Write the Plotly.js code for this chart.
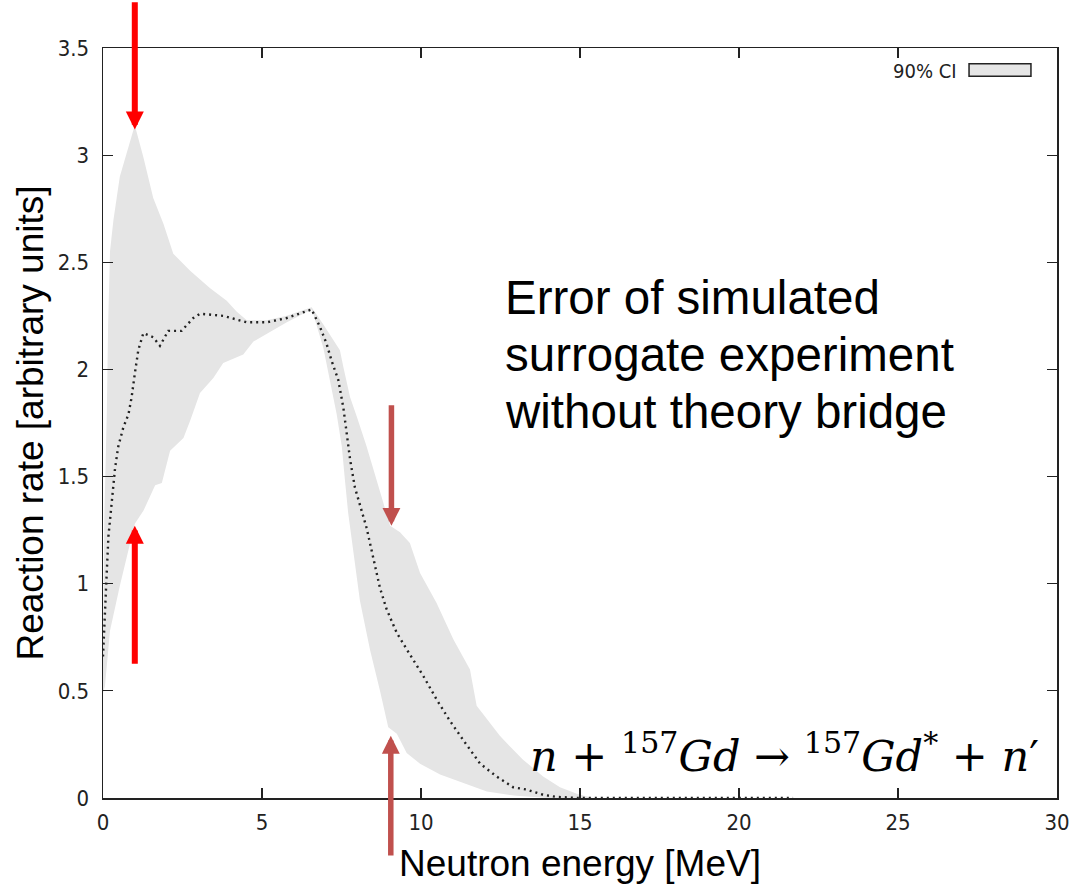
<!DOCTYPE html>
<html>
<head>
<meta charset="utf-8">
<script src="https://cdn.plot.ly/plotly-3.0.1.min.js"></script>
<style>html,body{margin:0;padding:0;background:#fff;}#chart{width:1076px;height:886px;}</style>
</head>
<body>
<div id="chart"></div>
<script>
// Central (dotted) curve: neutron energy [MeV] vs reaction rate
const energy = [0, 0.03, 0.06, 0.12, 0.17, 0.24, 0.30, 0.38, 0.48, 0.64, 0.80, 0.90, 1.0, 1.11, 1.27, 1.58, 1.79, 2.05, 2.47, 2.84, 3.05, 3.78, 4.52, 5.15, 5.78, 6.56, 6.82, 7.03, 7.19, 7.40, 7.56, 7.66, 7.77, 7.92, 8.08, 8.29, 8.5, 8.71, 8.92, 9.24, 9.65, 10.07, 10.49, 10.91, 11.33, 11.86, 12.38, 12.9, 13.3, 13.84, 14.26, 15, 16, 18, 20, 21.7];
const rate   = [0.66, 0.78, 0.91, 1.06, 1.22, 1.33, 1.45, 1.54, 1.64, 1.73, 1.79, 1.87, 1.98, 2.09, 2.17, 2.15, 2.11, 2.18, 2.18, 2.24, 2.26, 2.25, 2.22, 2.22, 2.24, 2.28, 2.20, 2.12, 2.04, 1.95, 1.82, 1.70, 1.58, 1.45, 1.37, 1.26, 1.12, 0.98, 0.88, 0.77, 0.67, 0.57, 0.46, 0.36, 0.27, 0.16, 0.10, 0.05, 0.04, 0.015, 0.005, 0, 0, 0, 0, 0];

// 90% CI upper bound
const upperE = [0, 0.04, 0.12, 0.16, 0.22, 0.33, 0.53, 1.0, 1.27, 1.58, 1.90, 2.21, 2.74, 3.36, 3.89, 4.2, 4.52, 5.15, 5.78, 6.56, 6.93, 7.45, 7.56, 7.77, 7.98, 8.29, 8.61, 8.92, 9.03, 9.34, 9.65, 9.97, 10.49, 11.02, 11.54, 11.75, 12.07, 12.48, 12.8, 13.2, 13.84, 14.37, 14.9, 15.4];
const upperR = [0.7, 1.3, 1.8, 2.2, 2.55, 2.70, 2.90, 3.14, 2.99, 2.80, 2.68, 2.54, 2.46, 2.38, 2.32, 2.27, 2.23, 2.23, 2.25, 2.29, 2.21, 2.09, 2.01, 1.87, 1.78, 1.64, 1.48, 1.33, 1.27, 1.24, 1.19, 1.05, 0.91, 0.74, 0.60, 0.43, 0.37, 0.29, 0.24, 0.18, 0.10, 0.05, 0.02, 0.0];

// 90% CI lower bound
const lowerE = [0, 0.06, 0.22, 0.53, 1.0, 1.27, 1.64, 1.85, 2.11, 2.53, 2.74, 3.05, 3.47, 3.78, 4.1, 4.41, 4.73, 4.94, 5.78, 6.56, 6.61, 6.93, 7.14, 7.35, 7.51, 7.61, 7.71, 7.87, 8.08, 8.40, 8.71, 8.97, 9.24, 9.55, 9.97, 10.6, 11.33, 12.07, 13.0, 14.0, 15.4];
const lowerR = [0.49, 0.52, 0.78, 0.99, 1.28, 1.34, 1.46, 1.47, 1.62, 1.68, 1.76, 1.89, 1.96, 2.03, 2.05, 2.07, 2.13, 2.15, 2.22, 2.28, 2.26, 2.10, 1.95, 1.79, 1.64, 1.48, 1.33, 1.16, 0.92, 0.69, 0.50, 0.33, 0.30, 0.21, 0.16, 0.11, 0.07, 0.03, 0.01, 0, 0];

const xTicks = [0, 5, 10, 15, 20, 25, 30];
const yTicks = [0, 0.5, 1, 1.5, 2, 2.5, 3, 3.5];

const legendLabel = '90% CI';
const noteLines = ['Error of simulated', 'surrogate experiment', 'without theory bridge'];
const reaction = '<i>n</i> + <sup>157</sup><i>Gd</i> → <sup>157</sup><i>Gd</i><sup>*</sup> + <i>n</i>′';

// arrows: x, head y, tail y, colour
const arrowX     = [1.0, 1.0, 9.07, 9.05];
const arrowHeadY = [3.12, 1.27, 1.27, 0.29];
const arrowTailY = [3.72, 0.62, 1.84, -0.275];
const arrowColor = ['#ff0000', '#ff0000', '#c0504d', '#c0504d'];

const narrow = 'Liberation Sans Narrow, Arial Narrow, DejaVu Sans Condensed, sans-serif';
const sans = 'Liberation Sans, Arial, sans-serif';

const bandX = upperE.concat(lowerE.slice().reverse());
const bandY = upperR.concat(lowerR.slice().reverse());

const traces = [
  {x: bandX, y: bandY, type: 'scatter', mode: 'lines', fill: 'toself',
   fillcolor: '#e5e5e5', line: {width: 0, color: '#e5e5e5'}, name: legendLabel,
   showlegend: false, hoverinfo: 'skip'},
  {x: energy, y: rate, type: 'scatter', mode: 'lines',
   line: {color: '#222222', width: 2.4, dash: '2px,4px'}, showlegend: false}
];

const axisCommon = {
  showgrid: false, zeroline: false, showline: true, linecolor: '#222', linewidth: 1.5,
  mirror: 'allticks', ticks: 'inside', ticklen: 10, tickwidth: 1.2, tickcolor: '#222',
  tickfont: {family: narrow, size: 22, color: '#222'}
};

const annotations = [];
noteLines.forEach((t, i) => {
  annotations.push({xref: 'paper', yref: 'paper', x: 0.419, y: [0.668, 0.591, 0.5155][i],
    xanchor: 'left', yanchor: 'middle', showarrow: false, text: t,
    font: {family: sans, size: 47.5, color: '#000'}});
});
annotations.push({xref: 'paper', yref: 'paper', x: 0.983, y: 0.060, xanchor: 'right', yanchor: 'middle',
  showarrow: false, text: reaction, font: {family: 'DejaVu Serif, serif', size: 43, color: '#000'}});
annotations.push({xref: 'paper', yref: 'paper', x: 0.8975, y: 0.970, xanchor: 'right', yanchor: 'middle',
  showarrow: false, text: legendLabel, font: {family: narrow, size: 20, color: '#222'}});
arrowX.forEach((ax, i) => {
  annotations.push({xref: 'x', yref: 'y', axref: 'x', ayref: 'y', x: ax, y: arrowHeadY[i],
    ax: ax, ay: arrowTailY[i], showarrow: true, text: '', arrowhead: 2,
    arrowsize: i < 2 ? 0.6 : 0.65, arrowwidth: i < 2 ? 6 : 5.5, arrowcolor: arrowColor[i], standoff: 0});
});

const layout = {
  width: 1076, height: 886,
  margin: {l: 103, r: 19, t: 48, b: 88},
  paper_bgcolor: '#fff', plot_bgcolor: '#fff',
  showlegend: false,
  xaxis: Object.assign({}, axisCommon, {range: [0, 30], tickvals: xTicks, ticktext: xTicks.map(String),
    ticklabelstandoff: 4,
    title: {text: 'Neutron energy [MeV]', font: {family: sans, size: 37, color: '#000'}, standoff: 16}}),
  yaxis: Object.assign({}, axisCommon, {range: [0, 3.5], tickvals: yTicks, ticktext: yTicks.map(String),
    ticklabelstandoff: 8,
    title: {text: 'Reaction rate [arbitrary units]', font: {family: sans, size: 37, color: '#000'}, standoff: 2}}),
  annotations: annotations,
  shapes: [{type: 'rect', xref: 'paper', yref: 'paper', x0: 0.9078, x1: 0.9727, y0: 0.9622, y1: 0.9791,
    fillcolor: '#e5e5e5', line: {color: '#222', width: 1.5}}]
};

Plotly.newPlot('chart', traces, layout, {displayModeBar: false, staticPlot: true});
</script>
</body>
</html>
